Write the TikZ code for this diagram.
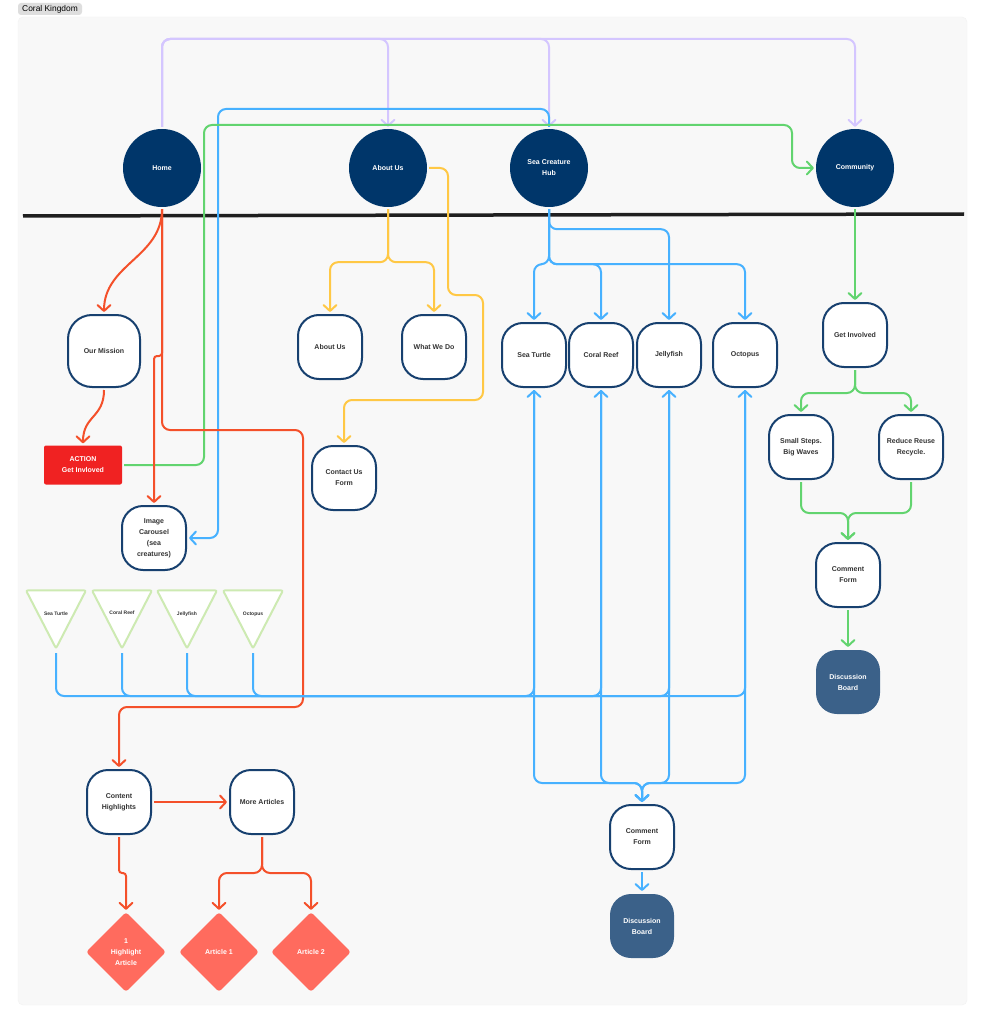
\documentclass[tikz,border=0pt]{standalone}
\usepackage{fontspec}
\setmainfont{Liberation Sans}
\usepackage{tikz}
\usetikzlibrary{arrows.meta,shapes.geometric}
\definecolor{hubnavy}{HTML}{00366A}
\definecolor{boxline}{HTML}{17406F}
\definecolor{boardblue}{HTML}{3B6189}
\definecolor{textgrey}{HTML}{333333}
\definecolor{panelgrey}{HTML}{F8F8F8}
\definecolor{taggrey}{HTML}{DEDEDE}
\definecolor{linered}{HTML}{F4502A}
\definecolor{actionred}{HTML}{F02222}
\definecolor{articlered}{HTML}{FF6B5E}
\definecolor{lineblue}{HTML}{47B1FF}
\definecolor{linegreen}{HTML}{62D46F}
\definecolor{lineyellow}{HTML}{FFC845}
\definecolor{linepurple}{HTML}{D4C6FF}
\definecolor{trigreen}{HTML}{CDEAB2}
\tikzset{
  mapcircle/.style={circle, fill=hubnavy, minimum size=78pt, inner sep=0pt, align=center,
    text=white, font=\fontsize{7}{11}\selectfont\bfseries},
  mapbox/.style={draw=boxline, line width=2pt, fill=white, rounded corners=21pt,
    minimum width=64pt, minimum height=64pt, inner sep=0pt, align=center,
    text=textgrey, font=\fontsize{7}{11}\selectfont\bfseries},
  mapboard/.style={mapbox, draw=none, fill=boardblue, text=white},
  mapaction/.style={fill=actionred, rounded corners=2pt, minimum width=78pt, minimum height=39pt,
    inner sep=0pt, align=center, text=white, font=\fontsize{7}{11}\selectfont\bfseries},
  mapdiamond/.style={diamond, fill=articlered, rounded corners=3pt, minimum width=80pt,
    minimum height=80pt, inner sep=0pt, align=center, text=white, font=\fontsize{7}{11}\selectfont\bfseries},
  maptri/.style={isosceles triangle, isosceles triangle stretches, shape border rotate=-90,
    draw=trigreen, line width=2pt, fill=white, rounded corners=2pt, minimum width=60pt,
    minimum height=58pt, inner sep=0pt, text height=20pt, text=textgrey, font=\fontsize{5}{6}\selectfont\bfseries},
  maparrow/.style={line width=2pt, rounded corners=8pt, line join=round, shorten >=2pt, shorten <=2pt,
    -{Straight Barb[length=6pt,width=13pt,round]}},
}

\begin{document}
\begin{tikzpicture}[x=1pt, y=-1pt, tag/.style={fill=taggrey, rounded corners=3pt, minimum width=64pt,
    minimum height=12pt, inner sep=0pt, font=\fontsize{8.4}{9}\selectfont}]
  \useasboundingbox (0,0) rectangle (985,1024);
  \fill[white] (0,0) rectangle (985,1024);
  \filldraw[fill=panelgrey, draw=black!5, rounded corners=5pt] (18,17) rectangle (967,1005);
  \node[tag] (title) at (50,9) {Coral Kingdom};
  \draw[line width=3.5pt, black!88] (23,216) -- (964,214);

  \node[mapcircle] (home) at (162,168) {Home};
  \node[mapcircle] (aboutc) at (388,168) {About Us};
  \node[mapcircle] (hub) at (549,168) {Sea Creature\\Hub};
  \node[mapcircle] (comm) at (855,168) {Community};

  \node[mapbox, minimum width=72pt, minimum height=72pt, rounded corners=24pt] (mission) at (104,351) {Our Mission};
  \node[mapaction] (action) at (83,465) {ACTION\\Get Invloved};
  \node[mapbox] (carousel) at (154,538) {Image\\Carousel\\(sea\\creatures)};
  \node[mapbox] (aboutp) at (330,347) {About Us};
  \node[mapbox] (whatwe) at (434,347) {What We Do};
  \node[mapbox] (contact) at (344,478) {Contact Us\\Form};
  \node[mapbox] (turtle) at (534,355) {Sea Turtle};
  \node[mapbox] (coral) at (601,355) {Coral Reef};
  \node[mapbox] (jelly) at (669,355) {Jellyfish};
  \node[mapbox] (octo) at (745,355) {Octopus};
  \node[mapbox] (getinv) at (855,335) {Get Involved};
  \node[mapbox] (small) at (801,447) {Small Steps.\\Big Waves};
  \node[mapbox] (reduce) at (911,447) {Reduce Reuse\\Recycle.};
  \node[mapbox] (cform2) at (848,575) {Comment\\Form};
  \node[mapboard] (board2) at (848,682) {Discussion\\Board};
  \node[mapbox] (cform) at (642,837) {Comment\\Form};
  \node[mapboard] (board) at (642,926) {Discussion\\Board};
  \node[mapbox] (content) at (119,802) {Content\\Highlights};
  \node[mapbox] (more) at (262,802) {More Articles};
  \node[mapdiamond] (hilite) at (126,952) {1\\Highlight\\Article};
  \node[mapdiamond] (art1) at (219,952) {Article 1};
  \node[mapdiamond] (art2) at (311,952) {Article 2};
  \node[maptri, anchor=apex] (tturtle) at (56,651) {Sea Turtle};
  \node[maptri, anchor=apex] (tcoral) at (122,651) {Coral Reef};
  \node[maptri, anchor=apex] (tjelly) at (187,651) {Jellyfish};
  \node[maptri, anchor=apex] (tocto) at (253,651) {Octopus};

  \coordinate (purplerail) at (0,39);
  \coordinate (bluerail) at (218,109);
  \coordinate (greenleft) at (204,125);
  \coordinate (greenright) at (792,125);
  \coordinate (redhook) at (162,356);
  \coordinate (redleft) at (303,430);
  \coordinate (redright) at (303,707);
  \coordinate (yellowA) at (448,295);
  \coordinate (yellowB) at (483,400);
  \coordinate (trirail) at (0,696);
  \coordinate (formrail) at (0,783);

  \draw[maparrow, linepurple] (home.north) |- (purplerail -| comm.north) -- (comm.north);
  \draw[maparrow, linepurple] (home.north) |- (purplerail -| aboutc.north) -- (aboutc.north);
  \draw[maparrow, linepurple] (home.north) |- (purplerail -| hub.north) -- (hub.north);
  \draw[maparrow, lineblue] (hub.north) |- (bluerail) |- (carousel.east);
  \draw[maparrow, linegreen] (action.east) -| (greenleft) -- (greenright) |- (comm.west);

  \draw[maparrow, linered] (home.south) .. controls +(0,50) and +(0,-50) .. (mission.north);
  \draw[maparrow, linered, rounded corners=3pt] (home.south) -- (redhook) -| (carousel.north);
  \draw[maparrow, linered] (home.south) |- (redleft) -- (redright) -| (content.north);
  \draw[maparrow, linered] (mission.south) .. controls +(0,30) and +(0,-30) .. (action.north);
  \draw[maparrow, linered] (content.east) -- (more.west);
  \draw[maparrow, linered, rounded corners=3pt] (content.south) -- ++(0,38) -| (hilite.north);
  \draw[maparrow, linered] (more.south) -- ++(0,38) -| (art1.north);
  \draw[maparrow, linered] (more.south) -- ++(0,38) -| (art2.north);

  \draw[maparrow, lineyellow] (aboutc.south) -- ++(0,55) -| (aboutp.north);
  \draw[maparrow, lineyellow] (aboutc.south) -- ++(0,55) -| (whatwe.north);
  \draw[maparrow, lineyellow] (aboutc.east) -| (yellowA) -| (yellowB) -| (contact.north);

  \draw[maparrow, lineblue] (hub.south) -- ++(0,22) -| (jelly.north);
  \draw[maparrow, lineblue] (hub.south) -- ++(0,57) -| (turtle.north);
  \draw[maparrow, lineblue] (hub.south) -- ++(0,57) -| (coral.north);
  \draw[maparrow, lineblue] (hub.south) -- ++(0,57) -| (octo.north);
  \draw[maparrow, lineblue] (tturtle.apex) |- (trirail -| turtle.south) -- (turtle.south);
  \draw[maparrow, lineblue] (tcoral.apex) |- (trirail -| coral.south) -- (coral.south);
  \draw[maparrow, lineblue] (tjelly.apex) |- (trirail -| jelly.south) -- (jelly.south);
  \draw[maparrow, lineblue] (tocto.apex) |- (trirail -| octo.south) -- (octo.south);
  \draw[maparrow, lineblue] (turtle.south) |- (formrail -| cform.north) -- (cform.north);
  \draw[maparrow, lineblue] (coral.south) |- (formrail -| cform.north) -- (cform.north);
  \draw[maparrow, lineblue] (jelly.south) |- (formrail -| cform.north) -- (cform.north);
  \draw[maparrow, lineblue] (octo.south) |- (formrail -| cform.north) -- (cform.north);
  \draw[maparrow, lineblue] (cform.south) -- (board.north);

  \draw[maparrow, linegreen] (comm.south) -- (getinv.north);
  \draw[maparrow, linegreen] (getinv.south) -- ++(0,25) -| (small.north);
  \draw[maparrow, linegreen] (getinv.south) -- ++(0,25) -| (reduce.north);
  \draw[maparrow, linegreen] (small.south) -- ++(0,33) -| (cform2.north);
  \draw[maparrow, linegreen] (reduce.south) -- ++(0,33) -| (cform2.north);
  \draw[maparrow, linegreen] (cform2.south) -- (board2.north);
\end{tikzpicture}
\end{document}
